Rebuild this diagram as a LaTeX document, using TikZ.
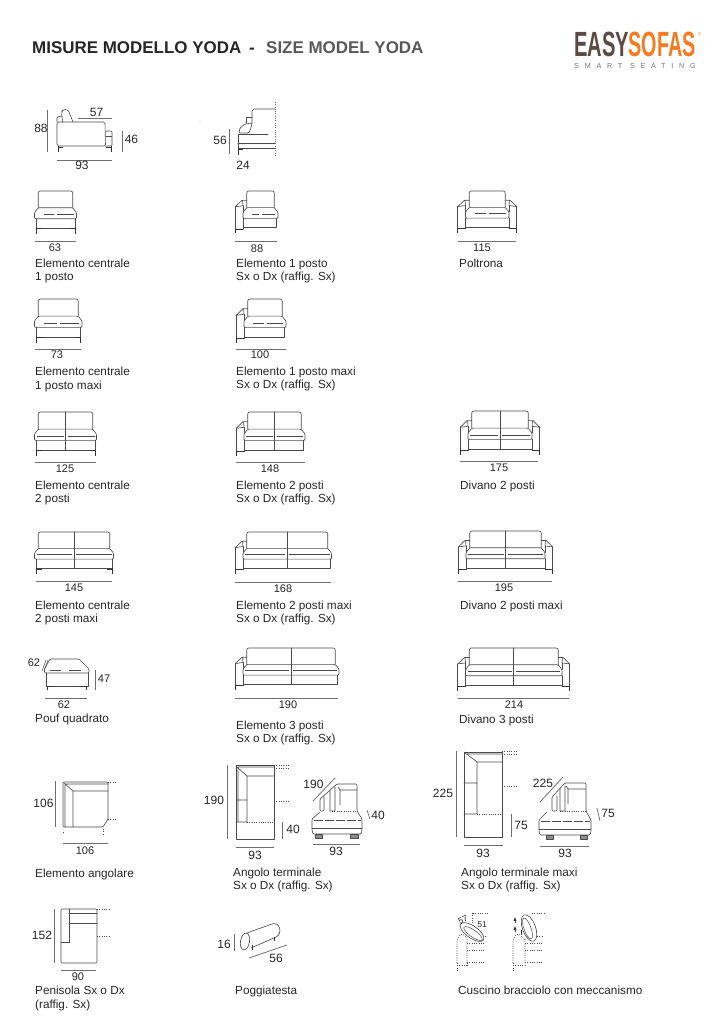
\documentclass[tikz,border=0pt]{standalone}
\usepackage{fontspec}
\setmainfont{Liberation Sans}
\newfontfamily\spaced[LetterSpace=80]{Liberation Sans}
\definecolor{ln}{HTML}{4A4A4A}
\definecolor{dimc}{HTML}{6E6E6E}
\definecolor{txt}{HTML}{262626}
\definecolor{logob}{HTML}{5C4A44}
\definecolor{logoo}{HTML}{F47B20}
\tikzset{
 sk/.style={draw=ln,line width=.62pt,line join=round,line cap=round},
 thin sk/.style={draw=ln,line width=.5pt},
 leg/.style={draw=black!80,line width=.75pt},
 dimline/.style={draw=dimc,line width=.75pt},
 dots/.style={draw=ln,line width=.6pt,dash pattern=on 1pt off 1.3pt},
 lab/.style={anchor=base west,inner sep=0pt,text=txt,font=\fontsize{11.75}{13}\selectfont},
 num/.style={anchor=center,inner sep=0pt,text=txt,font=\fontsize{11}{12}\selectfont},
 big num/.style={num,font=\fontsize{12}{13}\selectfont},
 tiny num/.style={num,font=\fontsize{8.5}{9}\selectfont},
}
\newcount\nodeno
\newcommand\lab[3]{\global\advance\nodeno by 1 \node[lab] (t\the\nodeno) at (#1,#2) {#3};}
\newcommand\num[3]{\global\advance\nodeno by 1 \node[num] (t\the\nodeno) at (#1,#2) {#3};}
\newcommand\bnum[3]{\global\advance\nodeno by 1 \node[big num] (t\the\nodeno) at (#1,#2) {#3};}
% front view: x0, x1, top, bottom, seats, armL, armR
\newcommand\sofa[7]{%
 \begin{scope}
 \pgfmathsetmacro\sH{#4-#3}
 \pgfmathsetmacro\sa{#1+#6*8}
 \pgfmathsetmacro\sb{#2-#7*8}
 \pgfmathsetmacro\ba{\sa+3.8}
 \pgfmathsetmacro\bb{\sb-3.8}
 \pgfmathsetmacro\yb{#3+.39*\sH}
 \pgfmathsetmacro\yw{#3+.50*\sH}
 \pgfmathsetmacro\yl{#3+.54*\sH}
 \pgfmathsetmacro\yc{#3+.645*\sH}
 \pgfmathsetmacro\yd{#3+.86*\sH}
 \pgfmathsetmacro\sw{(\bb-\ba)/#5}
 \pgfmathsetmacro\lta{\ifnum#6=1 \sa\else \sa+1.5\fi}
 \pgfmathsetmacro\ltb{\ifnum#7=1 \sb\else \sb-1.5\fi}
 \draw[sk,rounded corners=2pt] (\ba,\yb) -- (\ba,#3) -- (\bb,#3) -- (\bb,\yb);
 \draw[sk,rounded corners=1pt] (\ba,\yb) -- (\bb,\yb) -- (\sb,\yw) -- (\sb,\yc) -- (\sa,\yc) -- (\sa,\yw) -- cycle;
 \draw[sk] (\lta,\yc) -- (\lta,\yd) -- (\ltb,\yd) -- (\ltb,\yc);
 \pgfmathtruncatemacro\nn{#5}
 \pgfmathsetmacro\midx{(\ba+\bb)/2}
 \ifnum\nn=1
  \draw[thin sk] (\sa+9,\yl) -- (\midx-1.5,\yl) (\midx+1.5,\yl) -- (\sb-3,\yl);
 \else
  \draw[thin sk] (\sa+2,\yl) -- (\midx-2,\yl) (\midx+2,\yl) -- (\sb-2,\yl);
  \draw[sk] (\midx,#3) -- (\midx,\yd);
 \fi
 \ifnum#6=1
  \pgfmathsetmacro\at{#3+.22*\sH}
  \pgfmathsetmacro\af{#3+.37*\sH}
  \draw[sk] (#1+.3,\af) -- (#1+7,\at) -- (\ba,\at) (#1+.3,\af) -- (\sa,\af-1) -- (#1+7.5,\at);
  \draw[sk] (#1+.3,\af) -- (#1+.3,#3+.9*\sH) (\sa,\af-1) -- (\sa,\yw);
  \draw[sk] (\sa,\yc) -- (\sa,#3+.9*\sH);
  \draw[leg] (#1+.3,#3+.9*\sH) -- (\sa,#3+.9*\sH) (#1+.3,#3+.9*\sH) -- (#1+.3,#4);
 \else
  \draw[leg] (\sa+1.5,\yd) -- (\sa+1.5,#4) (\sa+1.5,\yd+.8) -- (\sa+7,\yd+.8);
 \fi
 \ifnum#7=1
  \pgfmathsetmacro\at{#3+.22*\sH}
  \pgfmathsetmacro\af{#3+.37*\sH}
  \draw[sk] (#2-.3,\af) -- (#2-7,\at) -- (\bb,\at) (#2-.3,\af) -- (\sb,\af-1) -- (#2-7.5,\at);
  \draw[sk] (#2-.3,\af) -- (#2-.3,#3+.9*\sH) (\sb,\af-1) -- (\sb,\yw);
  \draw[sk] (\sb,\yc) -- (\sb,#3+.9*\sH);
  \draw[leg] (#2-.3,#3+.9*\sH) -- (\sb,#3+.9*\sH) (#2-.3,#3+.9*\sH) -- (#2-.3,#4);
 \else
  \ifnum#6=0
  \draw[leg] (\sb-1.5,\yd) -- (\sb-1.5,#4) (\sb-1.5,\yd+.8) -- (\sb-7,\yd+.8);
  \fi
 \fi
 \end{scope}}
\begin{document}
\begin{tikzpicture}[x=1pt,y=-1pt]
\useasboundingbox (0,0) rectangle (725,1024);
\fill[white] (0,0) rectangle (725,1024);
% title
\node[anchor=base west,inner sep=0pt,font=\fontsize{16.95}{18}\selectfont\bfseries,text=black!85] (title) at (32,54) {MISURE MODELLO YODA};
\node[anchor=base west,inner sep=0pt,font=\fontsize{16.95}{18}\selectfont\bfseries,text=black!85] (dash) at (249,54) {-};
\node[anchor=base west,inner sep=0pt,font=\fontsize{16.95}{18}\selectfont\bfseries,text=black!65] (titleb) at (266,54) {SIZE MODEL YODA};
% logo
\node[anchor=base west,inner sep=0pt,font=\fontsize{35}{35}\selectfont\bfseries,text=logob,xscale=.575] (easy) at (574,57) {EASY};
\node[anchor=base west,inner sep=0pt,font=\fontsize{35}{35}\selectfont\bfseries,text=logoo,xscale=.565] (sofas) at (628.5,57) {SOFAS};
\node[anchor=base west,inner sep=0pt,font=\fontsize{4}{4}\selectfont,text=logoo] (reg) at (698,36) {®};
\node[anchor=base west,inner sep=0pt,font=\fontsize{7.2}{8}\selectfont\spaced,text=black!55] (smart) at (574,69) {SMART SEATING};
% side view 1
\draw[sk,rounded corners=1.5pt] (57,122) -- (105,122) -- (105.5,146) -- (57,146) -- cycle;
\draw[sk,rounded corners=2.5pt] (62.5,122) -- (61.5,112) -- (63,109.5) -- (68,109.5) -- (73,122);
\draw[sk,rounded corners=1pt] (57,122) -- (57,117) -- (62,116);
\draw[sk,rounded corners=1pt] (106,131) -- (112,131) -- (112,146) -- (105,146);
\draw[thin sk] (106,136) -- (112,136);
\draw[leg] (58,146) -- (58,152) (111,146) -- (111,152) (58,147) -- (63,147) (106,147) -- (111,147);
\draw[dimline] (47,110) -- (47,152);
\bnum{41}{128.5}{88}
\draw[dimline] (78,118) -- (112,118);
\bnum{96.5}{112}{57}
\draw[dimline] (122,131) -- (122,152);
\bnum{131.5}{139}{46}
\draw[dimline] (57,160) -- (112,160);
\bnum{82}{165}{93}
% side view 2
\draw[dots,draw=dimc] (275,102) -- (275,155);
\draw[sk] (275,109) -- (254,109) -- (252,111) -- (252,123);
\draw[sk] (246,123) -- (246,117) -- (252,117);
\draw[sk,rounded corners=1pt] (252,123) -- (245,124) -- (240,128) -- (239,133) -- (249,133) -- (251,128) -- (252,123);
\draw[sk] (238,134.5) -- (268,134.5) (238,134.5) -- (238,148) -- (275,148) (238,143.5) -- (275,143.5);
\draw[leg] (238,155) -- (238,148) (238,149) -- (243,149);
\draw[dimline] (229,129) -- (229,154);
\bnum{220}{140}{56}
\bnum{243}{165}{24}
\fill[dimc] (200,121) circle (.4);
% row 1
\sofa{34.5}{76.5}{191}{234}{1}{0}{0}
\draw[dimline] (35,241) -- (76,241);
\num{55}{248}{63}
\lab{35}{267}{Elemento centrale}\lab{35}{280}{1 posto}
\sofa{235}{278}{191}{233.5}{1}{1}{0}
\draw[dimline] (235,241) -- (277,241);
\num{257}{249}{88}
\lab{236}{267}{Elemento 1 posto}\lab{236}{280}{Sx o Dx (raffig. Sx)}
\sofa{457.5}{517}{191}{233}{1}{1}{1}
\draw[dimline] (458,241) -- (516,241);
\num{482}{248}{115}
\lab{459}{267}{Poltrona}
% row 2
\sofa{34.5}{82}{299}{343}{1}{0}{0}
\draw[dimline] (35,349) -- (81,349);
\num{57}{355}{73}
\lab{35}{375}{Elemento centrale}\lab{35}{389}{1 posto maxi}
\sofa{236}{286}{299}{343}{1}{1}{0}
\draw[dimline] (236,349) -- (286,349);
\num{260}{355}{100}
\lab{236}{375}{Elemento 1 posto maxi}\lab{236}{388}{Sx o Dx (raffig. Sx)}
% row 3
\sofa{34.5}{96.5}{412}{456}{2}{0}{0}
\draw[dimline] (35,462) -- (96,462);
\num{65}{469}{125}
\lab{35}{489}{Elemento centrale}\lab{35}{502}{2 posti}
\sofa{236}{305}{412}{456}{2}{1}{0}
\draw[dimline] (236,462) -- (305,462);
\num{270}{469}{148}
\lab{236}{489}{Elemento 2 posti}\lab{236}{502}{Sx o Dx (raffig. Sx)}
\sofa{460}{540}{411}{455}{2}{1}{1}
\draw[dimline] (460,461) -- (538,461);
\num{499}{468}{175}
\lab{460}{489}{Divano 2 posti}
% row 4
\sofa{34.5}{113.5}{532}{574}{2}{0}{0}
\draw[dimline] (36,581) -- (112,581);
\num{74}{588}{145}
\lab{35}{609}{Elemento centrale}\lab{35}{622}{2 posti maxi}
\sofa{235}{331.5}{532}{574}{2}{1}{0}
\draw[dimline] (235,582) -- (331,582);
\num{283}{589}{168}
\lab{236}{609}{Elemento 2 posti maxi}\lab{236}{622}{Sx o Dx (raffig. Sx)}
\sofa{458}{553}{531}{574}{2}{1}{1}
\draw[dimline] (458,581) -- (552,581);
\num{504}{588}{195}
\lab{460}{609}{Divano 2 posti maxi}
% row 5: pouf
\draw[sk,rounded corners=1pt] (50,659) -- (79,659) -- (89,669) -- (89,673) -- (44.5,673) -- (44.5,669) -- cycle;
\draw[thin sk] (50,670) -- (61,670) (69,670) -- (81,670);
\draw[sk] (46,673) -- (46,686) -- (88,686) -- (88,673);
\draw[leg] (47,686) -- (47,690) (47,686.5) -- (54,686.5) (86,686) -- (86,690) (86,686.5) -- (79,686.5);
\num{34}{663}{62}
\draw[thin sk] (42,671) -- (46,660) (44,671) -- (48,660);
\draw[dimline] (95,670) -- (95,690);
\num{104}{679}{47}
\draw[dimline] (45,698) -- (87,698);
\num{64}{705}{62}
\lab{35}{722.5}{Pouf quadrato}
\sofa{235}{339}{648}{690}{2}{1}{0}
\draw[dimline] (235,698) -- (338,698);
\num{288}{705}{190}
\lab{236}{729}{Elemento 3 posti}\lab{236}{742}{Sx o Dx (raffig. Sx)}
\sofa{457.5}{570}{648}{691}{2}{1}{1}
\draw[dimline] (458,698) -- (569,698);
\num{514}{705}{214}
\lab{459}{723}{Divano 3 posti}
% elemento angolare
\draw[sk,rounded corners=1pt] (63,782) -- (108,782) -- (108,819) -- (103,827) -- (63,827) -- cycle;
\draw[sk] (64,783) -- (73,791) -- (108,791) (73,791) -- (73,827) (65,785) -- (65,827) (65,784) -- (108,784);
\draw[dots] (108,782) -- (116,782) (108,819) -- (117,819) (63,832) -- (63,834) (103,829) -- (103,834);
\draw[dimline] (55,781) -- (55,827);
\bnum{43.5}{803}{106}
\draw[dimline] (63,843) -- (108,843);
\num{85}{851}{106}
\lab{35}{877}{Elemento angolare}
% angolo terminale
\draw[sk] (236,765) -- (274,765) -- (274,839) -- (236,839) -- cycle;
\draw[sk] (238,767) -- (274,767) (238,767) -- (238,822) (236,766) -- (247,776) -- (274,776) (247,776) -- (247,822) -- (236,822) (236,800) -- (247,800);
\draw[dots] (247,822) -- (274,822) (274,765) -- (288,765) (274,768) -- (288,768) (274,801) -- (288,801);
\draw[dimline] (227,765) -- (227,839);
\bnum{214}{800}{190}
\draw[dimline] (282,822) -- (282,839);
\bnum{293}{829}{40}
\draw[dimline] (236,847) -- (274,847);
\bnum{255}{855}{93}
% side
\draw[sk,rounded corners=1pt] (320,812) -- (312,819) -- (312,830) -- (313,834) -- (361,834) -- (362,830) -- (362,819) -- (357,811) -- (357,784) -- (337,784) -- (320,799) -- (320,811) -- (324,811) -- (324,797);
\draw[sk] (312,828) -- (362,828);
\draw[thin sk,dash pattern=on 9pt off 2pt] (314,820) -- (361,820);
\draw[dots] (332,811) -- (357,811);
\draw[sk,rounded corners=1pt] (330,811) -- (330,790.5) (335,811) -- (335,787) (335,811) -- (330,811) (340,790) -- (340,805) (338,787) -- (340,790) -- (357,790);
\draw[sk,fill=black!45] (315,834) rectangle (322,838) (350,834) rectangle (358,838);
\draw[dimline] (313,801) -- (335,778);
\bnum{313.5}{784}{190}
\draw[dimline] (367,810) -- (370,819);
\bnum{378}{815}{40}
\draw[dimline] (313,844) -- (360,844);
\bnum{336}{851}{93}
\lab{233}{876}{Angolo terminale}\lab{233}{889}{Sx o Dx (raffig. Sx)}
% maxi
\draw[sk] (464,752) -- (502,752) -- (502,837) -- (464,837) -- cycle;
\draw[sk] (464,752) -- (477,762) -- (502,762) (477,762) -- (477,814) -- (464,814) (464,783) -- (477,783) (466,754) -- (502,754);
\draw[dots] (477,814) -- (502,814) (502,751) -- (516,751) (502,754) -- (516,754) (502,786) -- (516,786);
\draw[dimline] (456,751) -- (456,837);
\bnum{443}{793}{225}
\draw[dimline] (511,814) -- (511,837);
\bnum{521}{825}{75}
\draw[dimline] (464,845) -- (503,845);
\bnum{483}{853}{93}
\draw[sk,rounded corners=1pt] (547,812) -- (539,820) -- (539,831) -- (540,835) -- (590,835) -- (591,831) -- (591,820) -- (586,811) -- (586,783) -- (565,783) -- (552,797) -- (552,811) -- (557,811) -- (557,796);
\draw[sk] (539,829) -- (591,829);
\draw[thin sk,dash pattern=on 9pt off 2pt] (541,821) -- (590,821);
\draw[dots] (560,811) -- (586,811);
\draw[sk,rounded corners=1pt] (560,811) -- (560,789) (565,811) -- (565,786) (565,811) -- (560,811) (568,789) -- (568,804) (566,786) -- (568,789) -- (586,789);
\draw[sk,fill=black!45] (546,835) rectangle (553,839) (580,835) rectangle (587,839);
\draw[dimline] (540,802) -- (563,777);
\bnum{543}{783}{225}
\draw[dimline] (597,808) -- (600,821);
\bnum{608}{813}{75}
\draw[dimline] (540,846) -- (589,846);
\bnum{565}{853}{93}
\lab{461}{876}{Angolo terminale maxi}\lab{461}{889}{Sx o Dx (raffig. Sx)}
% penisola
\draw[sk,rounded corners=1pt] (61,909) -- (97,909) -- (97,963) -- (61,963) -- cycle;
\draw[sk] (69,909) -- (69,942) -- (61,942) (69,913) -- (97,913) (69,923) -- (97,923);
\draw[dots] (97,909) -- (110,909) (97,936) -- (110,936);
\draw[dimline] (54,909) -- (54,963);
\bnum{42}{935}{152}
\draw[dimline] (61,970) -- (96,970);
\num{78}{977}{90}
\lab{35}{994}{Penisola Sx o Dx}\lab{35}{1008}{(raffig. Sx)}
% poggiatesta
\draw[sk,rotate around={-10:(245,941.5)}] (245,941.5) ellipse (4.5 and 8.5);
\draw[sk] (247,933) -- (272,924) .. controls (280,921) and (283,934) .. (276,937) -- (251,948);
\draw[leg] (252,945) -- (252,950) (274,937) -- (274,941);
\draw[dimline] (234,934) -- (234,951);
\bnum{224}{944}{16}
\draw[dimline] (249,958) -- (287,945);
\bnum{276}{958}{56}
\lab{235}{994}{Poggiatesta}
% cuscino 1
\draw[dots,rounded corners=3pt] (467,963) -- (467,939) (457,963) -- (457,938) -- (462,933) -- (467,938);
\draw[dots] (457,963) -- (457,970) (457,965) -- (467,965) -- (467,962) (467,962) -- (484,962) (467,950) -- (485,950) (467,943) -- (485,943) (473,913) -- (488,913) (472,913) -- (472,923) (483,936) -- (487,936);
\draw[sk,fill=white,rotate around={-35:(472,932)}] (472,932) ellipse (14 and 6);
\draw[thin sk,rotate around={-35:(473,933.5)}] (473,933.5) ellipse (11 and 3.5);
\node[tiny num,rotate=25] (c57) at (463,920) {57};
\node[tiny num] (c51) at (482,925) {51};
% cuscino 2
\draw[dots,rounded corners=3pt] (525,963) -- (525,939) (513,963) -- (513,938) -- (518,933) -- (525,940);
\draw[dots] (513,963) -- (513,970) (513,965) -- (525,965) (525,962) -- (543,962) (525,950) -- (543,950) (525,943) -- (543,943) (532,913) -- (545,913) (537,936) -- (542,936);
\draw[sk,fill=white,rotate around={-70:(529,928)}] (529,928) ellipse (14 and 6.5);
\draw[thin sk,rotate around={-70:(527.5,928.5)}] (527.5,928.5) ellipse (11 and 3.5);
\fill[black!80] (513.5,921) -- (515,917) -- (516.5,921) -- cycle (513.5,930) -- (515,926) -- (516.5,930) -- cycle;
\draw[thin sk] (515,921) -- (515,923) (515,930) -- (515,932);
\draw[leg] (521.5,930) -- (521.5,935);
\lab{458}{994}{Cuscino bracciolo con meccanismo}
\end{tikzpicture}
\end{document}
